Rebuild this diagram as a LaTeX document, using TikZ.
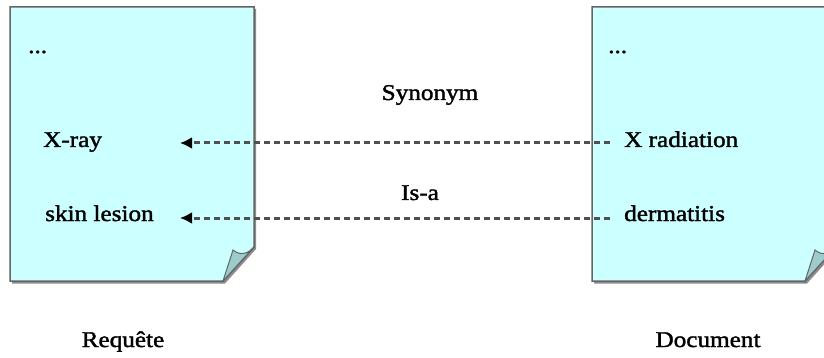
\documentclass[tikz,border=0pt]{standalone}
\usepackage{fontspec}
\setmainfont{Liberation Serif}[FakeStretch=1.12,FakeBold=1.6]
\usetikzlibrary{arrows.meta}
\definecolor{notefill}{RGB}{204,255,255}
\definecolor{foldfill}{RGB}{156,204,204}
\definecolor{edgegray}{RGB}{100,100,100}
\definecolor{shadegray}{RGB}{140,140,140}
\definecolor{linkgray}{RGB}{80,80,80}
\tikzset{
  word/.style={anchor=base west,inner sep=0pt,font=\fontsize{22.5}{26}\selectfont},
  caption/.style={anchor=base,inner sep=0pt,font=\fontsize{22.5}{26}\selectfont},
  link/.style={draw=linkgray,line width=3pt,dash pattern=on 6.5pt off 3.5pt,
    -{Latex[length=12pt,width=12pt,color=black]}},
}
\begin{document}
\begin{tikzpicture}[x=1pt,y=-1pt]
  \clip (0,0) rectangle (824,358);
  \fill[white] (0,0) rectangle (824,358);
  \foreach \px in {10,592} {%
    \fill[shadegray] (\px+2,9) -- (\px+246,9) -- (\px+246,249) -- (\px+215,283.5) -- (\px+2,283.5) -- cycle;
    \filldraw[fill=notefill,draw=edgegray,line width=1.5pt] (\px,7) -- (\px+244,7) -- (\px+244,247) -- (\px+213,281) -- (\px,281) -- cycle;
    \filldraw[fill=foldfill,draw=edgegray,line width=1pt] (\px+213,281) -- (\px+223,250) .. controls (\px+230,256) and (\px+238,254) .. (\px+244,247) -- cycle;
  }
  \node[word] (dotsL) at (28,53) {...};
  \node[word] (xray) at (43,147) {X-ray};
  \node[word] (lesion) at (45,221) {skin lesion};
  \node[word] (dotsR) at (608,53) {...};
  \node[word] (xrad) at (624,147) {X radiation};
  \node[word] (derm) at (624,221) {dermatitis};
  \node[caption] (syn) at (430,100) {Synonym};
  \node[caption] (isa) at (420,200) {Is-a};
  \node[caption] (req) at (123,347) {Requête};
  \node[caption] (doc) at (708,347) {Document};
  \coordinate (tipA) at (180,143);
  \coordinate (tipB) at (180,218);
  \draw[link,shorten <=14pt] (xrad.west |- tipA) -- (tipA);
  \draw[link,shorten <=14pt] (derm.west |- tipB) -- (tipB);
\end{tikzpicture}
\end{document}
